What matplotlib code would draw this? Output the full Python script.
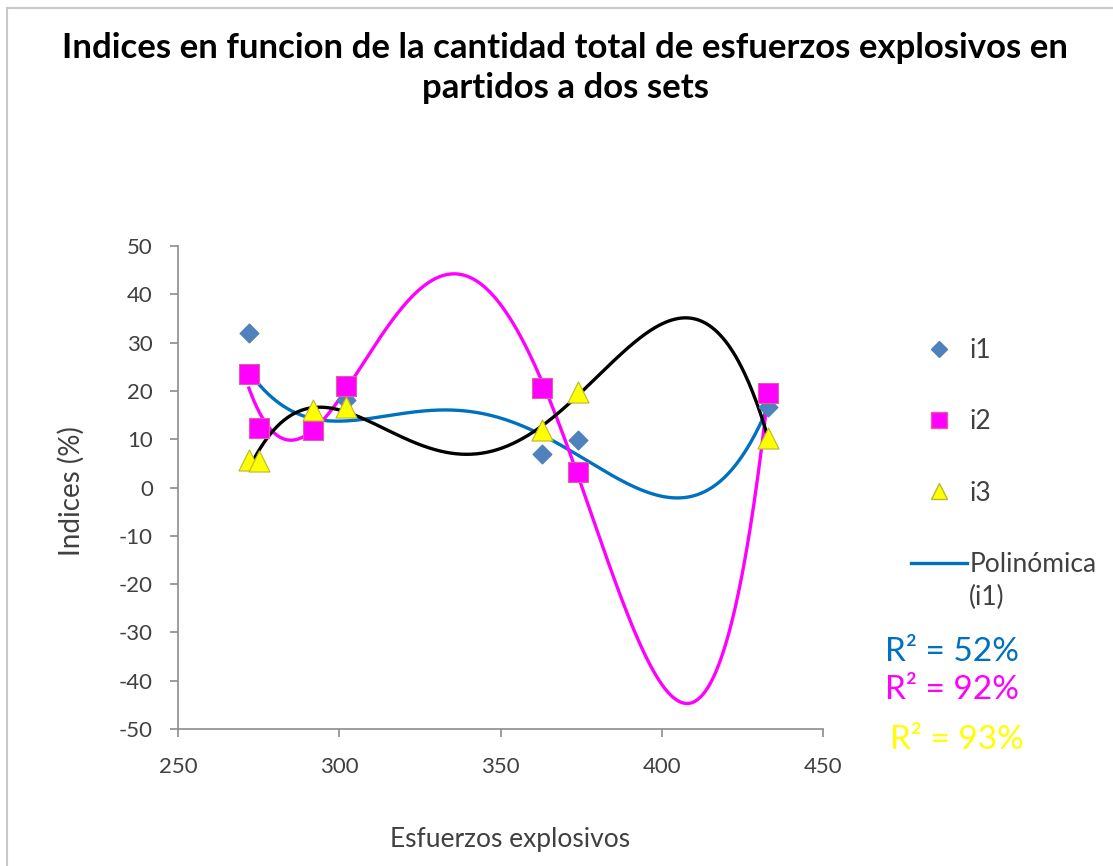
import numpy as np
import matplotlib
matplotlib.use("Agg")
import matplotlib.pyplot as plt
from matplotlib.lines import Line2D
from matplotlib.patches import Rectangle

plt.rcParams["font.family"] = ["Lato", "DejaVu Sans"]
plt.rcParams["axes.unicode_minus"] = False

# ── Data ──
esfuerzos = [272, 275, 292, 302, 363, 374, 433]
i1 = [32.0, 12.3, 12.0, 18.1, 6.9, 9.8, 16.7]
i2 = [23.5, 12.3, 12.0, 21.0, 20.7, 3.3, 19.6]
i3 = [5.7, 5.5, 16.0, 16.7, 11.9, 19.8, 10.2]
r2_labels = ["R² = 52%", "R² = 92%", "R² = 93%"]
poly_order = 4

C_I1 = "#4f81bd"
C_TREND1 = "#0070c0"
C_I2 = "#ff00ff"
C_I3 = "#ffff00"
C_TXT = "#404040"
W, H = 1113, 866

fig = plt.figure(figsize=(W/100, H/100), dpi=100)
ax = fig.add_axes([178/W, 1 - 729/H, 645/W, 483/H])

# chart frame
fig.add_artist(Rectangle((7/W, -0.1), 1.2, 1 - 8/H + 0.1, transform=fig.transFigure,
                         fill=False, edgecolor="#c8c8c8", linewidth=1.5))

x = np.array(esfuerzos, dtype=float)
xs = np.linspace(x.min(), x.max(), 400)

# polynomial trendlines (Excel-style, fitted to each series)
for ys, col in [(i1, C_TREND1), (i2, C_I2), (i3, "black")]:
    coef = np.polyfit(x, ys, poly_order)
    ax.plot(xs, np.polyval(coef, xs), color=col, linewidth=2.4, zorder=2)

ax.scatter(x, i1, marker="D", s=90, color=C_I1, zorder=3)
ax.scatter(x, i2, marker="s", s=210, color=C_I2, edgecolor="#e0609a", linewidth=0.8, zorder=4)
ax.scatter(x, i3, marker="^", s=230, color=C_I3, edgecolor="#b8b830", linewidth=0.8, zorder=5)

ax.set_xlim(250, 450)
ax.set_ylim(-50, 50)
ax.set_xticks(range(250, 451, 50))
ax.set_yticks(range(-50, 51, 10))
for s in ["top", "right"]:
    ax.spines[s].set_visible(False)
for s in ["left", "bottom"]:
    ax.spines[s].set_color("#8c8c8c")
    ax.spines[s].set_linewidth(1.2)
ax.tick_params(axis="both", direction="out", length=6, width=1.2, color="#8c8c8c",
               labelsize=16, labelcolor=C_TXT)
ax.tick_params(axis="y", pad=12)
ax.tick_params(axis="x", pad=14)

fig.text(71/W, 1 - 491/H, "Indices (%)", rotation=90, ha="center", va="center",
         fontsize=20, color=C_TXT)
fig.text(510/W, 1 - 839/H, "Esfuerzos explosivos", ha="center", va="center",
         fontsize=19, color=C_TXT)

fig.text(565/W, 1 - 68/H,
         "Indices en funcion de la cantidad total de esfuerzos explosivos en\npartidos a dos sets",
         ha="center", va="center", fontsize=25, fontweight="bold", linespacing=1.28)

# legend
handles = [
    Line2D([], [], linestyle="none", marker="D", markersize=8, color=C_I1),
    Line2D([], [], linestyle="none", marker="s", markersize=11, color=C_I2, markeredgecolor="#e0609a"),
    Line2D([], [], linestyle="none", marker="^", markersize=11, color=C_I3, markeredgecolor="#b8b830"),
    Line2D([], [], color=C_TREND1, linewidth=2.4),
]
leg = fig.legend(handles, ["i1", "i2", "i3", "Polinómica"],
                 loc="upper left", bbox_to_anchor=(898/W, 1 - 325/H),
                 frameon=False, fontsize=19, labelspacing=1.75, handlelength=2.1,
                 handletextpad=0.1, borderpad=0)
for t in leg.get_texts():
    t.set_color(C_TXT)

# second line of the trendline label, placed under "Polinómica"
fig.canvas.draw()
bb = leg.get_texts()[-1].get_window_extent().transformed(fig.transFigure.inverted())
fig.text(bb.x0, bb.y0 - 8/H, "(i1)", fontsize=19, color=C_TXT, ha="left", va="top")

for lab, col, (px, py) in zip(r2_labels, [C_TREND1, C_I2, C_I3],
                              [(885, 652), (885, 690), (890, 740)]):
    fig.text(px/W, 1 - py/H, lab, color=col, fontsize=24, ha="left", va="center")

fig.savefig("out.png", dpi=100)
